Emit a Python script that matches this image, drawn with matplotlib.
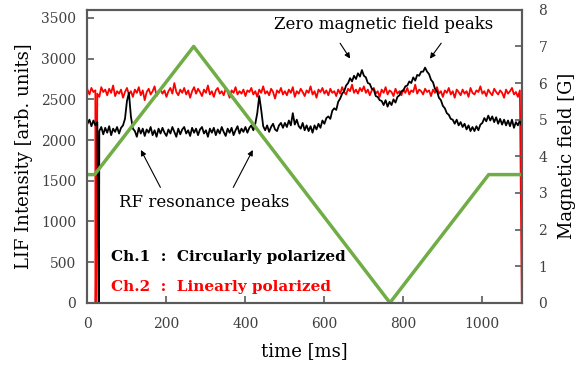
import numpy as np
import matplotlib
matplotlib.use("Agg")
import matplotlib.pyplot as plt

# time axis of the two LIF traces (5 ms sampling)
trace_t = np.arange(0, 1101, 5)

# Ch.2 (linearly polarized)
red_lif = [
    2620, 2560, 2640, 2590, 2610, 2570, 2530, 2650, 2590, 2620,
    2550, 2630, 2580, 2670, 2540, 2600, 2570, 2620, 2520, 2590,
    2640, 2560, 2600, 2530, 2620, 2580, 2650, 2550, 2610, 2490,
    2590, 2630, 2560, 2600, 2660, 2540, 2580, 2620, 2570, 2610,
    2530, 2600, 2640, 2570, 2700, 2590, 2550, 2620, 2580, 2640,
    2560, 2610, 2520, 2600, 2650, 2570, 2630, 2590, 2540, 2620,
    2580, 2670, 2560, 2600, 2530, 2610, 2640, 2570, 2600, 2550,
    2630, 2590, 2520, 2610, 2580, 2650, 2560, 2600, 2570, 2620,
    2540, 2610, 2590, 2640, 2560, 2600, 2530, 2620, 2580, 2660,
    2570, 2600, 2550, 2630, 2590, 2510, 2610, 2580, 2640, 2560,
    2600, 2550, 2620, 2580, 2650, 2530, 2600, 2570, 2630, 2590,
    2540, 2610, 2580, 2660, 2560, 2600, 2520, 2620, 2590, 2640,
    2570, 2610, 2550, 2630, 2580, 2600, 2540, 2620, 2570, 2650,
    2590, 2560, 2630, 2600, 2680, 2580, 2620, 2570, 2640, 2600,
    2660, 2580, 2620, 2550, 2610, 2640, 2570, 2600, 2530, 2620,
    2580, 2650, 2560, 2610, 2590, 2540, 2630, 2570, 2600, 2550,
    2620, 2580, 2640, 2560, 2610, 2590, 2680, 2570, 2620, 2600,
    2560, 2630, 2590, 2610, 2540, 2620, 2580, 2650, 2570, 2600,
    2530, 2610, 2580, 2640, 2560, 2600, 2520, 2620, 2590, 2550,
    2620, 2570, 2600, 2530, 2640, 2580, 2560, 2610, 2590, 2660,
    2570, 2600, 2540, 2620, 2580, 2550, 2630, 2590, 2560, 2610,
    2580, 2520, 2620, 2570, 2600, 2640, 2560, 2590, 2530, 2610,
    0,
]

# Ch.1 (circularly polarized)
black_lif = [
    2200, 2250, 2170, 2240, 2180, 2220, 2110, 2160, 2070, 2150,
    2090, 2170, 2060, 2140, 2100, 2160, 2080, 2150, 2180, 2260,
    2480, 2580, 2290, 2140, 2110, 2040, 2150, 2080, 2140, 2050,
    2130, 2090, 2160, 2060, 2120, 2040, 2140, 2080, 2150, 2090,
    2050, 2130, 2080, 2160, 2100, 2040, 2140, 2070, 2130, 2160,
    2080, 2120, 2050, 2150, 2090, 2140, 2060, 2130, 2160, 2080,
    2120, 2040, 2140, 2090, 2150, 2060, 2130, 2080, 2160, 2100,
    2050, 2140, 2090, 2150, 2060, 2120, 2170, 2080, 2140, 2100,
    2160, 2090, 2150, 2180, 2120, 2200, 2330, 2540, 2370, 2170,
    2120, 2180, 2100, 2160, 2200, 2130, 2110, 2180, 2210, 2150,
    2210, 2160, 2240, 2180, 2330, 2190, 2250, 2170, 2140, 2210,
    2120, 2180, 2110, 2170, 2090, 2180, 2130, 2200, 2150, 2240,
    2200, 2270, 2290, 2260, 2360, 2390, 2370, 2470, 2510, 2570,
    2600, 2670, 2700, 2760, 2720, 2790, 2750, 2820, 2780, 2860,
    2790, 2770, 2700, 2690, 2630, 2620, 2540, 2530, 2490, 2480,
    2430, 2490, 2410, 2470, 2430, 2500, 2460, 2530, 2550, 2600,
    2610, 2660, 2670, 2720, 2700, 2770, 2730, 2800, 2790, 2840,
    2840, 2890, 2840, 2810, 2740, 2710, 2630, 2600, 2520, 2490,
    2420, 2390, 2330, 2310, 2260, 2250, 2200, 2250, 2180, 2220,
    2160, 2200, 2130, 2180, 2110, 2160, 2110, 2170, 2120, 2190,
    2210, 2270, 2230, 2300, 2240, 2290, 2220, 2280, 2200, 2260,
    2190, 2250, 2180, 2240, 2170, 2250, 2150, 2220, 2180, 2240,
    2170,
]

# short signal dropouts near the start (and the end of Ch.2)
red_drop_t = [20, 21]
red_drop_v = [0, 0]
black_drop_t = [28, 29]
black_drop_v = [0, 0]

# magnetic field sweep [G]
field_t = [0, 18, 269, 766, 1016, 1100]
field_g = [3.5, 3.5, 7.0, 0.0, 3.5, 3.5]


def merge(t, v, dt, dv):
    tt = np.concatenate([t, dt])
    vv = np.concatenate([np.asarray(v, float), np.asarray(dv, float)])
    order = np.argsort(tt, kind="stable")
    return tt[order], vv[order]


plt.rcParams["font.family"] = "DejaVu Serif"
spine_col = "#5a5a5a"

fig = plt.figure(figsize=(5.87, 3.78), dpi=100)
ax = fig.add_axes([0.149, 0.199, 0.74, 0.775])

rt, rv = merge(trace_t, red_lif, red_drop_t, red_drop_v)
bt, bv = merge(trace_t, black_lif, black_drop_t, black_drop_v)
ax.plot(rt, rv, color="#ff0000", lw=1.3)
ax.plot(bt, bv, color="black", lw=1.3)

ax.set_xlim(0, 1100)
ax.set_ylim(0, 3600)
ax.set_xticks([0, 200, 400, 600, 800, 1000])
ax.set_yticks(np.arange(0, 3501, 500))
ax.set_xlabel("time [ms]", fontsize=13, labelpad=8)
ax.set_ylabel("LIF Intensity [arb. units]", fontsize=13, labelpad=6)

ax2 = ax.twinx()
ax2.plot(field_t, field_g, color="#70ad47", lw=2.5)
ax2.set_ylim(0, 8)
ax2.set_xlim(0, 1100)
ax2.set_yticks(range(0, 9))
ax2.set_ylabel("Magnetic field [G]", fontsize=13, labelpad=8)

for a in (ax, ax2):
    for s in a.spines.values():
        s.set_color(spine_col)
        s.set_linewidth(1.5)
    a.tick_params(direction="in", length=5, width=1.2, color=spine_col,
                  labelcolor="#404040", labelsize=10)
ax.tick_params(axis="x", pad=10)
ax.tick_params(axis="y", pad=8, right=False)
ax2.tick_params(axis="y", pad=12)

# annotations
ax.text(750, 3420, "Zero magnetic field peaks", fontsize=12, ha="center", va="center")
for tx, hx in [(636, 669), (900, 863)]:
    ax.annotate("", xy=(hx, 2972), xytext=(tx, 3218),
                arrowprops=dict(arrowstyle="-|>", lw=0.8, color="black", mutation_scale=8))

ax.text(296, 1229, "RF resonance peaks", fontsize=12, ha="center", va="center")
for tx, hx in [(188, 132), (366, 422)]:
    ax.annotate("", xy=(hx, 1908), xytext=(tx, 1388),
                arrowprops=dict(arrowstyle="-|>", lw=0.8, color="black", mutation_scale=8))

ax.text(59, 562, "Ch.1  :  Circularly polarized", fontsize=11, fontweight="bold",
        color="black", ha="left", va="center")
ax.text(59, 192, "Ch.2  :  Linearly polarized", fontsize=11, fontweight="bold",
        color="#ff0000", ha="left", va="center")

fig.savefig("out.png", dpi=100)
